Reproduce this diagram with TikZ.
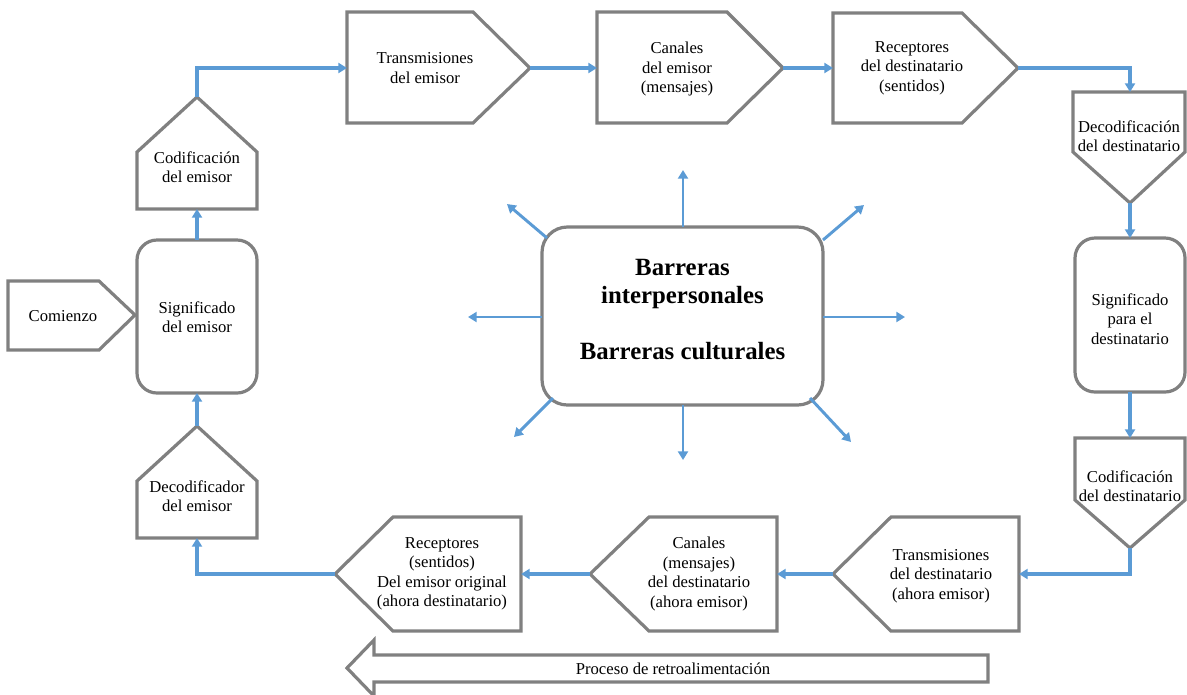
\documentclass[tikz,border=0pt]{standalone}
\usepackage{fontspec}
\setmainfont{Liberation Serif}
\usetikzlibrary{arrows.meta}
\definecolor{shapegray}{HTML}{808080}
\definecolor{flowblue}{HTML}{5B9BD5}
\tikzset{
  shapebox/.style={draw=shapegray, line width=2.4pt, line join=miter, fill=white},
  flow/.style={draw=flowblue, line width=2.3pt, -{Triangle[length=6.5pt,width=7.5pt]}},
  ray/.style={draw=flowblue, line width=2.2pt, -{Triangle[length=6.5pt,width=7.5pt]}},
  lbl/.style={align=center, font=\fontsize{12.5}{14.6}\selectfont, inner sep=0pt},
}
\begin{document}
\begin{tikzpicture}[x=0.75pt, y=-0.75pt]
\useasboundingbox (0,0) rectangle (1187,694);

% ---- left column (emisor) ----
\draw[shapebox] (8,281) -- (99,281) -- (135,315) -- (99,350) -- (8,350) -- cycle;
\node[lbl] (comienzo) at (63,316) {Comienzo};

\draw[shapebox, rounded corners=15pt] (137,240) rectangle (257,393);
\coordinate (sigE-top) at (197,240);
\coordinate (sigE-bot) at (197,393);
\node[lbl] (sigE) at (197,317) {Significado\\del emisor};

\draw[shapebox] (137,209) -- (137,152) -- (197,97) -- (257,152) -- (257,209) -- cycle;
\coordinate (codE-top) at (197,97);
\coordinate (codE-bot) at (197,209);
\node[lbl] (codE) at (197,167) {Codificación\\del emisor};

\draw[shapebox] (137,538) -- (137,481) -- (197,426) -- (257,481) -- (257,538) -- cycle;
\coordinate (decE-top) at (197,426);
\coordinate (decE-bot) at (197,538);
\node[lbl] (decE) at (197,496) {Decodificador\\del emisor};

% ---- top row ----
\draw[shapebox] (347,12) -- (473,12) -- (530,68) -- (473,123) -- (347,123) -- cycle;
\coordinate (transE-in) at (347,68);
\coordinate (transE-tip) at (530,68);
\node[lbl] (transE) at (425,68) {Transmisiones\\del emisor};

\draw[shapebox] (597,12) -- (727,12) -- (783,68) -- (727,123) -- (597,123) -- cycle;
\coordinate (canE-in) at (597,68);
\coordinate (canE-tip) at (783,68);
\node[lbl] (canE) at (677,69) {Canales\\del emisor\\(mensajes)};

\draw[shapebox] (833,13) -- (962,13) -- (1018,68) -- (962,123) -- (833,123) -- cycle;
\coordinate (recD-in) at (833,68);
\coordinate (recD-tip) at (1018,68);
\node[lbl] (recD) at (912,68) {Receptores\\del destinatario\\(sentidos)};

% ---- right column (destinatario) ----
\draw[shapebox] (1073,92) -- (1185,92) -- (1185,152) -- (1130,203) -- (1073,152) -- cycle;
\coordinate (decD-top) at (1130,92);
\coordinate (decD-tip) at (1130,203);
\node[lbl] (decD) at (1129,136) {Decodificación\\del destinatario};

\draw[shapebox, rounded corners=15pt] (1075,238) rectangle (1185,392);
\coordinate (sigD-top) at (1130,238);
\coordinate (sigD-bot) at (1130,392);
\node[lbl] (sigD) at (1130,319) {Significado\\para el\\destinatario};

\draw[shapebox] (1075,438) -- (1185,438) -- (1185,500) -- (1130,548) -- (1075,500) -- cycle;
\coordinate (codD-top) at (1130,438);
\coordinate (codD-tip) at (1130,548);
\node[lbl] (codD) at (1130,486) {Codificación\\del destinatario};

% ---- bottom row ----
\draw[shapebox] (1019,517) -- (891,517) -- (833,574) -- (891,631) -- (1019,631) -- cycle;
\coordinate (transD-in) at (1019,574);
\coordinate (transD-tip) at (833,574);
\node[lbl] (transD) at (941,576) {Transmisiones\\del destinatario\\(ahora emisor)};

\draw[shapebox] (777,517) -- (649,517) -- (590,574) -- (649,631) -- (777,631) -- cycle;
\coordinate (canD-in) at (777,574);
\coordinate (canD-tip) at (590,574);
\node[lbl] (canD) at (699,574) {Canales\\(mensajes)\\del destinatario\\(ahora emisor)};

\draw[shapebox] (521,517) -- (393,517) -- (335,574) -- (393,631) -- (521,631) -- cycle;
\coordinate (recO-in) at (521,574);
\coordinate (recO-tip) at (335,574);
\node[lbl] (recO) at (442,574) {Receptores\\(sentidos)\\Del emisor original\\(ahora destinatario)};

% ---- feedback arrow ----
\draw[shapebox] (988,655) -- (374,655) -- (374,640) -- (347,668) -- (374,696) -- (374,682) -- (988,682) -- cycle;
\node[lbl] (feedback) at (673,669) {Proceso de retroalimentación};

% ---- flow connectors ----
\draw[flow] (decE-top) -- (sigE-bot);
\draw[flow] (sigE-top) -- (codE-bot);
\draw[flow] (codE-top) |- (transE-in);
\draw[flow] (transE-tip) -- (canE-in);
\draw[flow] (canE-tip) -- (recD-in);
\draw[flow] (recD-tip) -| (decD-top);
\draw[flow] (decD-tip) -- (sigD-top);
\draw[flow] (sigD-bot) -- (codD-top);
\draw[flow] (codD-tip) |- (transD-in);
\draw[flow] (transD-tip) -- (canD-in);
\draw[flow] (canD-tip) -- (recO-in);
\draw[flow] (recO-tip) -| (decE-bot);

% ---- central barriers box with outward rays ----
\draw[shapebox, rounded corners=19pt] (542,227) rectangle (823,405);
\node[align=center, inner sep=0pt, font=\fontsize{18.6}{21}\selectfont\bfseries] (barreras) at (682.5,310)
  {Barreras\\interpersonales\\[21pt]Barreras culturales};
\coordinate (bar-n) at (683,227);
\coordinate (bar-s) at (683,405);
\coordinate (bar-w) at (542,317);
\coordinate (bar-e) at (823,317);
\coordinate (bar-nw) at (547,238);
\coordinate (bar-ne) at (823,240);
\coordinate (bar-sw) at (553,398);
\coordinate (bar-se) at (810,398);
\coordinate (ray-n) at (683,170);
\coordinate (ray-s) at (683,460);
\coordinate (ray-w) at (468,317);
\coordinate (ray-e) at (905,317);
\coordinate (ray-nw) at (507,204);
\coordinate (ray-ne) at (864,205);
\coordinate (ray-sw) at (514,437);
\coordinate (ray-se) at (851,442);
\foreach \d in {n,s,w,e,nw,ne,sw,se}
  \draw[ray] (bar-\d) -- (ray-\d);
\end{tikzpicture}
\end{document}
